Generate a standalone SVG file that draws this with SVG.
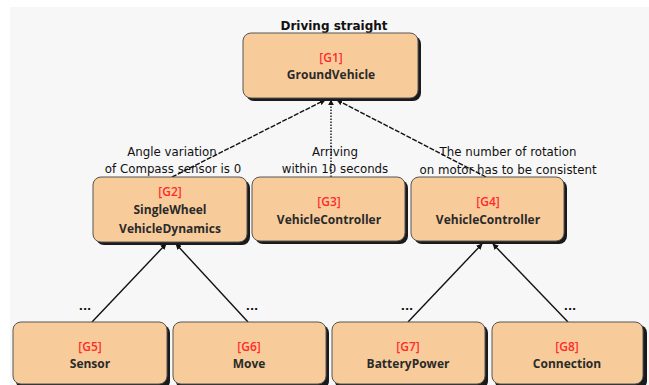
<svg xmlns="http://www.w3.org/2000/svg" width="649" height="385" viewBox="0 0 649 385">
<defs>
<style>
.sh{fill:#1a1a1a}
.bx{fill:#f8cc9a;stroke:#555;stroke-width:1}
.id{font-family:"Open Sans","Noto Sans",sans-serif;font-size:12px;font-weight:600;fill:#ff2a2a;text-anchor:middle}
.nm{font-family:"Open Sans","Noto Sans",sans-serif;font-size:12px;font-weight:700;fill:#2a2a2a;text-anchor:middle}
.lb{font-family:"DejaVu Sans",sans-serif;font-size:11.8px;fill:#111;text-anchor:middle}
.ttl{font-family:"DejaVu Sans",sans-serif;font-size:12px;font-weight:700;fill:#111;text-anchor:middle}
.dots{font-family:"DejaVu Sans",sans-serif;font-size:11px;font-weight:700;fill:#111;text-anchor:middle}
.ln{stroke:#111;stroke-width:1.4;fill:none;marker-end:url(#ah)}
.dash{stroke-dasharray:5 1.5}
.dot{stroke-dasharray:1.5 1.5}
</style>
<marker id="ah" viewBox="0 0 10 10" refX="9" refY="5" markerWidth="6" markerHeight="6" orient="auto" markerUnits="userSpaceOnUse">
<path d="M0,0 L10,5 L0,10 z" fill="#111"/>
</marker>
</defs>
<rect x="0" y="0" width="649" height="385" fill="#ffffff"/>
<rect x="10" y="7" width="639" height="378" fill="#f7f7f7"/>

<text class="ttl" x="334" y="30">Driving straight</text>

<g id="connectors">
<line class="ln dash" x1="172" y1="177" x2="325" y2="100"/>
<line class="ln dot" x1="331" y1="177" x2="331" y2="100"/>
<line class="ln dash" x1="486" y1="177" x2="337" y2="100"/>
<line class="ln" x1="92" y1="322" x2="166" y2="244"/>
<line class="ln" x1="248" y1="322" x2="176" y2="244"/>
<line class="ln" x1="408" y1="322" x2="482" y2="244"/>
<line class="ln" x1="568" y1="322" x2="493" y2="244"/>
<text class="lb" x="172" y="156">Angle variation</text>
<text class="lb" x="173" y="173">of Compass sensor is 0</text>
<text class="lb" x="335" y="156">Arriving</text>
<text class="lb" x="335" y="173">within 10 seconds</text>
<text class="lb" x="508" y="156">The number of rotation</text>
<text class="lb" x="508" y="174">on motor has to be consistent</text>
<text class="dots" x="85" y="310">...</text>
<text class="dots" x="252" y="310">...</text>
<text class="dots" x="407" y="310">...</text>
<text class="dots" x="570" y="310">...</text>
</g>

<g id="G1">
<rect class="sh" x="246" y="36" width="175" height="65" rx="8"/>
<rect class="bx" x="243" y="33" width="175" height="65" rx="8"/>
<text class="id" x="331" y="62">[G1]</text>
<text class="nm" x="331" y="79">GroundVehicle</text>
</g>
<g id="G2">
<rect class="sh" x="96" y="180" width="154" height="65" rx="8"/>
<rect class="bx" x="93" y="177" width="154" height="65" rx="8"/>
<text class="id" x="170" y="196">[G2]</text>
<text class="nm" x="170" y="214">SingleWheel</text>
<text class="nm" x="170" y="233">VehicleDynamics</text>
</g>
<g id="G3">
<rect class="sh" x="255" y="180" width="153" height="64" rx="8"/>
<rect class="bx" x="252" y="177" width="153" height="64" rx="8"/>
<text class="id" x="329" y="206">[G3]</text>
<text class="nm" x="329" y="224">VehicleController</text>
</g>
<g id="G4">
<rect class="sh" x="414" y="180" width="153" height="64" rx="8"/>
<rect class="bx" x="411" y="177" width="153" height="64" rx="8"/>
<text class="id" x="488" y="206">[G4]</text>
<text class="nm" x="488" y="224">VehicleController</text>
</g>
<g id="G5">
<rect class="sh" x="16" y="325" width="154" height="64" rx="8"/>
<rect class="bx" x="13" y="322" width="154" height="62" rx="8"/>
<text class="id" x="90" y="351">[G5]</text>
<text class="nm" x="90" y="368">Sensor</text>
</g>
<g id="G6">
<rect class="sh" x="176" y="325" width="153" height="64" rx="8"/>
<rect class="bx" x="173" y="322" width="153" height="62" rx="8"/>
<text class="id" x="249" y="351">[G6]</text>
<text class="nm" x="249" y="368">Move</text>
</g>
<g id="G7">
<rect class="sh" x="335" y="325" width="153" height="64" rx="8"/>
<rect class="bx" x="332" y="322" width="153" height="62" rx="8"/>
<text class="id" x="408" y="351">[G7]</text>
<text class="nm" x="408" y="368">BatteryPower</text>
</g>
<g id="G8">
<rect class="sh" x="495" y="325" width="152" height="64" rx="8"/>
<rect class="bx" x="492" y="322" width="151" height="62" rx="8"/>
<text class="id" x="567" y="351">[G8]</text>
<text class="nm" x="567" y="368">Connection</text>
</g>
</svg>
